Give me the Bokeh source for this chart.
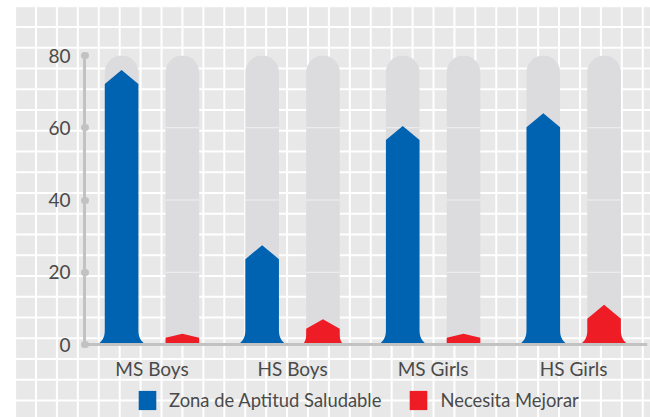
import numpy as np
from bokeh.plotting import figure
from bokeh.models import Range1d, FixedTicker, Legend, LegendItem, LinearAxis
from bokeh.core.properties import value
from bokeh.embed import file_html
from bokeh.resources import INLINE

# ---- data ----
categories = ["MS Boys", "HS Boys", "MS Girls", "HS Girls"]
saludable = [76, 27.5, 60.5, 64]
mejorar = [3, 7, 3, 11]
series_names = ["Zona de Aptitud Saludable", "Necesita Mejorar"]
y_ticks = [0, 20, 40, 60, 80]
y_max = 80

# ---- style ----
BLUE = "#0063b2"
RED = "#ee1d25"
TRACK = "#dcdcde"
BG = "#e8e8e8"
AXIS = "#c2c2c2"
TEXT = "#4a4a4a"
FONT = "Lato"

W, H = 650, 417
BL, BR, BT, BB = 84, 3, 55, 4
FW, FH = W - BL - BR, H - BT - BB
DATA_PX = 289                     # pixel height of the 0..80 span
sy = DATA_PX / y_max
y_start = -(FH - DATA_PX) / sy
x_start, x_end = 0.02, 4.025
sx = FW / (x_end - x_start)

centers = np.arange(len(categories)) + 0.5
dodge = 30.4 / sx
half_px = 16.8
half = half_px / sx
RAD = 17
LABEL_OFFSET_PX = 24


def marker_shape(xc, val):
    total = val * sy
    roof = min(14.0, 0.38 * total)
    flare = float(np.clip(7.0 * (total - 10.0) / 30.0, 0.0, 7.0))
    flare_h = min(16.0, 0.45 * total)
    t = np.linspace(0, 1, 16)
    ext = flare * (1 - t) ** 3
    hh = flare_h * t
    xs = list(-(half_px + ext)) + [-half_px, 0.0, half_px] + list((half_px + ext)[::-1])
    ys = list(hh) + [total - roof, total, total - roof] + list(hh[::-1])
    return [xc + v / sx for v in xs], [v / sy for v in ys]


css = {
    "background-color": BG,
    "background-image": (
        "linear-gradient(to right, #ffffff 16px, transparent 16px), "
        "linear-gradient(to bottom, #ffffff 6px, transparent 6px), "
        "linear-gradient(to right, #ffffff 2px, transparent 2px), "
        "linear-gradient(to bottom, #ffffff 2px, transparent 2px)"
    ),
    "background-size": "100% 100%, 100% 100%, 20.93px 20.75px, 20.93px 20.75px",
    "background-position": "0px 0px, 0px 0px, 35px 26px, 35px 26px",
    "background-repeat": "no-repeat, no-repeat, repeat, repeat",
}

p = figure(
    width=W, height=H,
    x_range=Range1d(x_start, x_end), y_range=Range1d(y_start, y_max),
    output_backend="svg", toolbar_location=None, x_axis_location=None,
    min_border_left=BL, min_border_right=BR, min_border_top=BT, min_border_bottom=BB,
    styles=css,
)
p.background_fill_alpha = 0
p.border_fill_alpha = 0
p.outline_line_color = None
p.xgrid.visible = False
p.ygrid.visible = False

# tracks
track_x = list(centers - dodge) + list(centers + dodge)
p.vbar(x=track_x, width=2 * half, bottom=0, top=y_max, fill_color=TRACK,
       line_color=None, border_radius=(RAD, RAD, 0, 0))
sx0, sx1, sy0 = [], [], []
for tx in track_x:
    for tk in y_ticks[1:-1]:
        sx0.append(tx - half)
        sx1.append(tx + half)
        sy0.append(tk)
p.segment(x0=sx0, x1=sx1, y0=sy0, y1=sy0, line_color="white", line_alpha=0.6, line_width=1)

# shapes
bx, by = zip(*[marker_shape(c - dodge, v) for c, v in zip(centers, saludable)])
rx, ry = zip(*[marker_shape(c + dodge, v) for c, v in zip(centers, mejorar)])
rb = p.patches(xs=list(bx), ys=list(by), fill_color=BLUE, line_color=None)
rr = p.patches(xs=list(rx), ys=list(ry), fill_color=RED, line_color=None)

# category labels
p.text(x=list(centers), y=[-LABEL_OFFSET_PX / sy] * len(categories), text=categories,
       text_align="center", text_baseline="middle", text_font=value(FONT),
       text_font_size="19px", text_color=TEXT)

# y axis
yax = p.yaxis[0]
yax.ticker = FixedTicker(ticks=y_ticks)
yax.bounds = (0, y_max)
yax.minor_tick_line_color = None
yax.axis_line_color = AXIS
yax.axis_line_width = 3
yax.major_tick_line_color = AXIS
yax.major_tick_line_width = 7
yax.major_tick_line_cap = "round"
yax.major_tick_in = 1
yax.major_tick_out = 0
yax.major_label_standoff = 14
yax.major_label_text_font = FONT
yax.major_label_text_font_size = "19px"
yax.major_label_text_color = TEXT

# x axis line at zero
xax = LinearAxis(fixed_location=0, ticker=FixedTicker(ticks=[]))
xax.minor_tick_line_color = None
xax.major_tick_line_color = None
xax.major_tick_in = 0
xax.major_tick_out = 0
xax.major_label_standoff = 0
xax.axis_line_color = AXIS
xax.axis_line_width = 3
p.add_layout(xax, "below")

legend = Legend(
    items=[LegendItem(label=series_names[0], renderers=[rb]),
           LegendItem(label=series_names[1], renderers=[rr])],
    orientation="horizontal", location=(52, 1),
    glyph_width=22, glyph_height=24, label_standoff=11, spacing=26,
    padding=2, margin=0, background_fill_alpha=0, border_line_color=None,
    label_text_font=FONT, label_text_font_size="18.4px", label_text_color=TEXT,
)
p.add_layout(legend)

open("out.html", "w").write(file_html(p, INLINE))
